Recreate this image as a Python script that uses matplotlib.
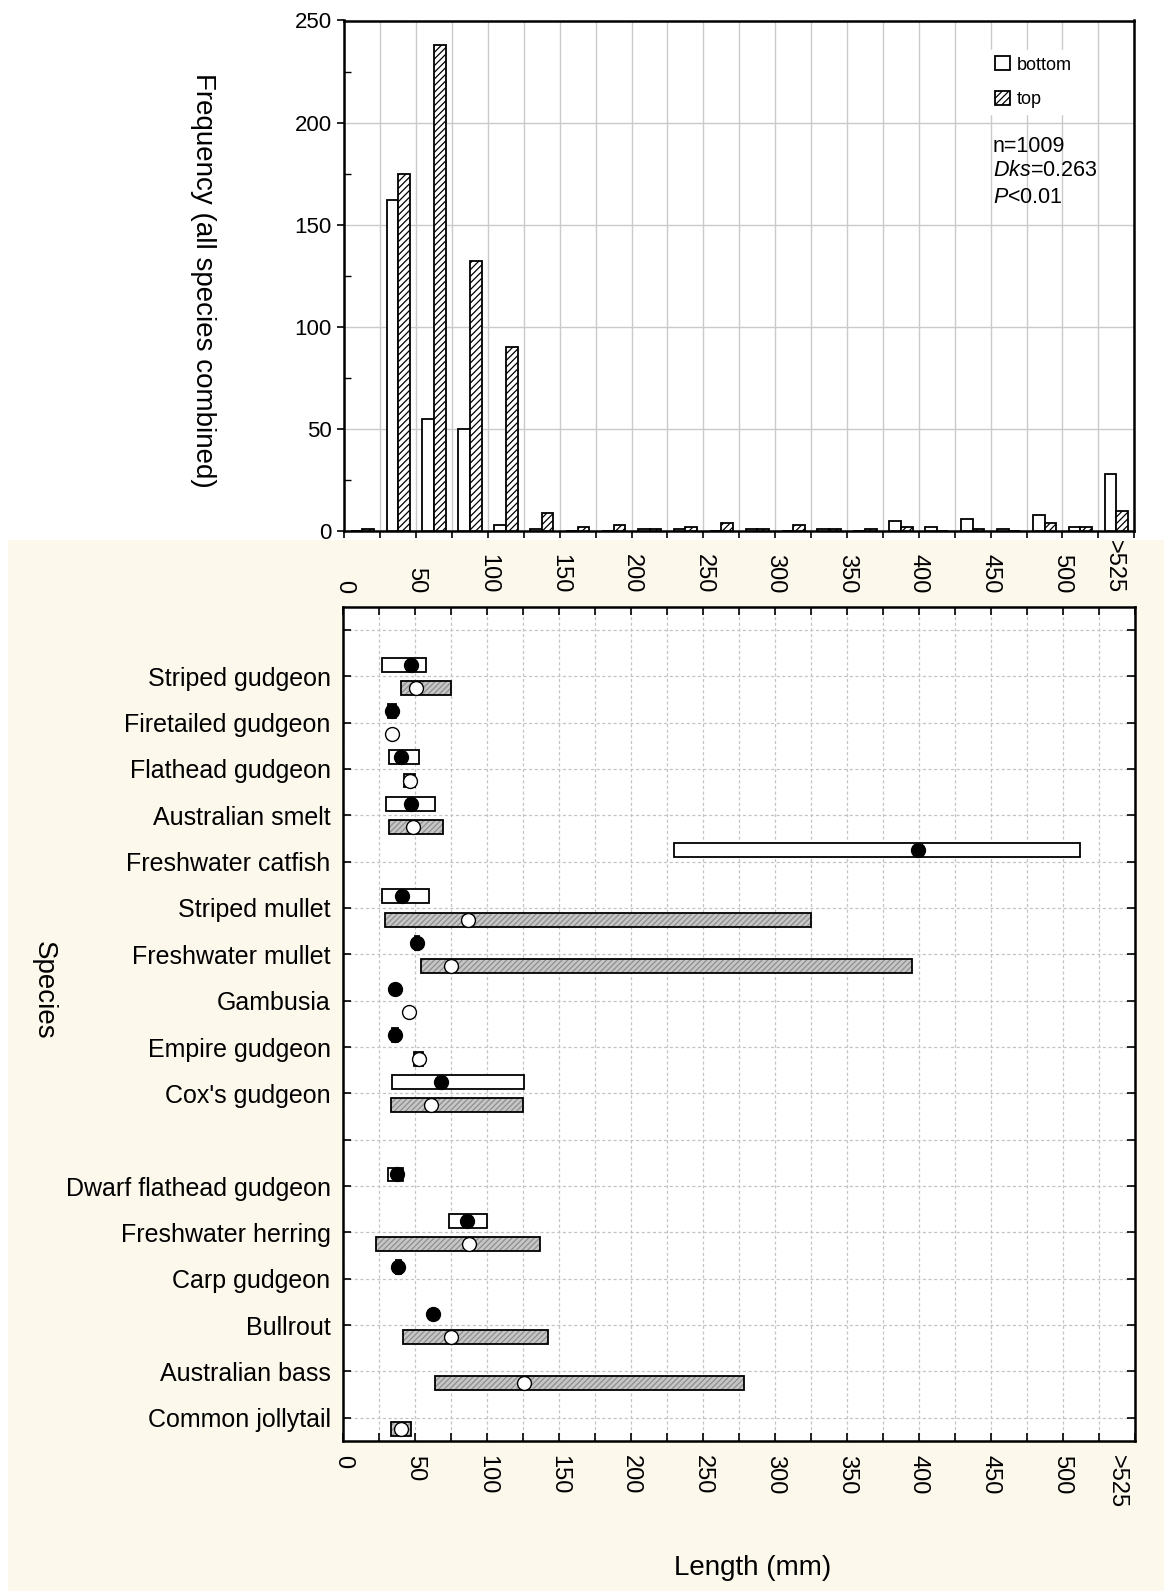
import matplotlib
matplotlib.use('Agg')
import matplotlib.pyplot as plt
import numpy as np
from matplotlib.patches import Rectangle, Patch

plt.rcParams['font.family'] = ['Liberation Sans', 'DejaVu Sans']
plt.rcParams['mathtext.fontset'] = 'custom'
plt.rcParams['mathtext.rm'] = 'Liberation Sans'
plt.rcParams['mathtext.it'] = 'Liberation Sans:italic'
plt.rcParams['hatch.linewidth'] = 0.9

# ---------------- data ----------------
# histogram: 25 mm length classes, last class is >525
bin_starts = list(range(0, 550, 25))
freq_bottom = [0, 162, 55, 50, 3, 1, 0, 0, 1, 1, 0, 1, 0, 1, 0, 5, 2, 6, 1, 8, 2, 28]
freq_top = [1, 175, 238, 132, 90, 9, 2, 3, 1, 2, 4, 1, 3, 1, 1, 2, 0, 1, 0, 4, 2, 10]

length_tick_pos = [0, 50, 100, 150, 200, 250, 300, 350, 400, 450, 500]
length_tick_lab = ['0', '50', '100', '150', '200', '250', '300', '350', '400', '450', '500']
last_class_pos = 537.5
last_class_lab = '>525'

species = ["Striped gudgeon", "Firetailed gudgeon", "Flathead gudgeon", "Australian smelt",
           "Freshwater catfish", "Striped mullet", "Freshwater mullet", "Gambusia",
           "Empire gudgeon", "Cox's gudgeon", "", "Dwarf flathead gudgeon",
           "Freshwater herring", "Carp gudgeon", "Bullrout", "Australian bass",
           "Common jollytail"]
nan = np.nan
bottom_min = [27, 31, 32, 30, 230, 27, 50, nan, 34, 34, nan, 31, 74, 37, nan, nan, nan]
bottom_max = [58, 37, 53, 64, 512, 60, 53, nan, 38.5, 126, nan, 42, 100, 40, nan, nan, nan]
bottom_mean = [47, 34.3, 40, 47, 399.5, 41.3, 51.7, 36.2, 36.2, 68.4, nan, 37.3, 86, 38.2, 62.8, nan, nan]
top_min = [40, 34.3, 42.2, 32, nan, 29, 54.2, nan, 49.6, 33.2, nan, nan, 22.9, nan, 41.9, 64.2, 33.2]
top_max = [75, 34.3, 50.3, 69.3, nan, 325.2, 395.2, nan, 55.4, 125.2, nan, nan, 137.2, nan, 142.3, 278.4, 47.1]
top_mean = [50.8, 34.3, 46.6, 48.9, nan, 86.9, 75.1, 45.9, 52.8, 61.4, nan, nan, 87.8, nan, 75.1, 126.1, 40.1]

# ---------------- figure ----------------
W, H = 1164, 1591
fig = plt.figure(figsize=(W / 100, H / 100), dpi=100)
fig.patches.append(Rectangle((8 / W, 0), 1 - 8 / W, 1 - 540 / H, transform=fig.transFigure,
                             facecolor='#fdf8ec', edgecolor='none', zorder=-10))

# ---------- histogram ----------
ax1 = fig.add_axes([344.3 / W, 1 - 531 / H, 790 / W, (531 - 20.5) / H])
centers = np.array(bin_starts) + 12.5
bw = 8.1
ax1.bar(centers - bw / 2, freq_bottom, width=bw, facecolor='white', edgecolor='black', lw=1.3, zorder=3)
ax1.bar(centers + bw / 2, freq_top, width=bw, facecolor='white', edgecolor='black', lw=1.3,
        hatch='/////', zorder=3)
ax1.set_xlim(0, 550)
ax1.set_ylim(0, 250)
ax1.set_xticks(np.arange(0, 551, 25))
ax1.set_xticklabels([])
ax1.set_yticks(np.arange(0, 251, 50))
ax1.set_yticks(np.arange(25, 250, 50), minor=True)
ax1.tick_params(axis='y', which='major', direction='out', length=5, width=1.2, labelsize=16, pad=4)
ax1.tick_params(axis='y', which='minor', direction='in', length=5, width=1)
ax1.tick_params(axis='x', which='major', direction='out', length=5, width=1.2)
ax1.grid(True, which='major', color='#cacaca', lw=1, ls='-')
ax1.set_axisbelow(True)
for s in ax1.spines.values():
    s.set_linewidth(1.8)
xt = ax1.get_xaxis_transform()
yfrac = (531 - 593) / 510.5
for p, l in zip(length_tick_pos + [last_class_pos - 1.5], length_tick_lab + [last_class_lab]):
    ax1.text(p, yfrac, l, transform=xt, rotation=270, ha='center', va='bottom', fontsize=17,
             clip_on=False)

handles = [Patch(facecolor='white', edgecolor='black', lw=1.3, label='bottom'),
           Patch(facecolor='white', edgecolor='black', lw=1.3, hatch='/////', label='top')]
leg = ax1.legend(handles=handles, loc='upper left', bbox_to_anchor=(0.816, 0.942), frameon=True,
                 fancybox=False, edgecolor='white', facecolor='white', framealpha=1, fontsize=13,
                 handlelength=0.8, handleheight=0.8, handletextpad=0.4, labelspacing=0.95,
                 borderpad=0.35, borderaxespad=0)
sx = (992.7 - 344.3) / 790
ax1.text(sx, (531 - 146) / 510.5, 'n=1009', transform=ax1.transAxes, fontsize=15.5, va='center', ha='left')
ax1.text(sx, (531 - 171) / 510.5, r'$\mathit{Dks}$=0.263', transform=ax1.transAxes, fontsize=15.5,
         va='center', ha='left')
ax1.text(sx, (531 - 197.5) / 510.5, r'$\mathit{P}$<0.01', transform=ax1.transAxes, fontsize=15.5,
         va='center', ha='left')

# ---------- species ranges ----------
ax2 = fig.add_axes([343 / W, 1 - 1441 / H, 791.5 / W, (1441 - 606.7) / H])
y = np.arange(len(species))
off = 0.25
bh = 0.3
bmin, bmax, bmean = np.array(bottom_min), np.array(bottom_max), np.array(bottom_mean)
tmin, tmax, tmean = np.array(top_min), np.array(top_max), np.array(top_mean)
mb = ~np.isnan(bmin)
mt = ~np.isnan(tmin)
ax2.barh(y[mb] - off, bmax[mb] - bmin[mb], left=bmin[mb], height=bh, facecolor='white',
         edgecolor='black', lw=1.3, zorder=3)
ax2.barh(y[mt] + off, tmax[mt] - tmin[mt], left=tmin[mt], height=bh, facecolor='#c6c6c6',
         edgecolor='#8e8e8e', lw=0, hatch='//////', zorder=3)
ax2.barh(y[mt] + off, tmax[mt] - tmin[mt], left=tmin[mt], height=bh, fill=False,
         edgecolor='black', lw=1.3, zorder=4)
ax2.plot(bmean, y - off, ls='none', marker='o', ms=10, mfc='black', mec='black', zorder=5)
ax2.plot(tmean, y + off, ls='none', marker='o', ms=10, mfc='white', mec='black', mew=1, zorder=5)

ax2.set_xlim(0, 550)
ax2.set_ylim(len(species) - 0.5, -1.5)
ax2.set_yticks(np.arange(-1, len(species)))
ax2.set_yticklabels([''] + species)
xt_major = np.arange(0, 551, 25)
ax2.set_xticks(xt_major)
ax2.set_xticklabels([str(int(v)) if (v in length_tick_pos) else '' for v in xt_major])
ax2.set_xticks([last_class_pos], [last_class_lab], minor=True)
ax2.tick_params(axis='both', which='major', direction='in', top=True, right=True, length=6, width=1.2)
ax2.tick_params(axis='y', labelsize=18, pad=9)
ax2.tick_params(axis='x', which='both', labelsize=17, labelrotation=270, pad=10)
ax2.tick_params(axis='x', which='minor', length=0)
ax2.grid(True, which='major', color='#c4c4c4', lw=0.9, ls=(0, (2.5, 2)))
ax2.set_axisbelow(True)
for s in ax2.spines.values():
    s.set_linewidth(1.8)

fig.text(203 / W, 1 - 280 / H, 'Frequency (all species combined)', rotation=270, ha='center',
         va='center', fontsize=20)
fig.text(43.6 / W, 1 - 990 / H, 'Species', rotation=270, ha='center', va='center', fontsize=20)
fig.text(753 / W, 1 - 1568 / H, 'Length (mm)', ha='center', va='center', fontsize=20)

fig.savefig('out.png', dpi=100)
